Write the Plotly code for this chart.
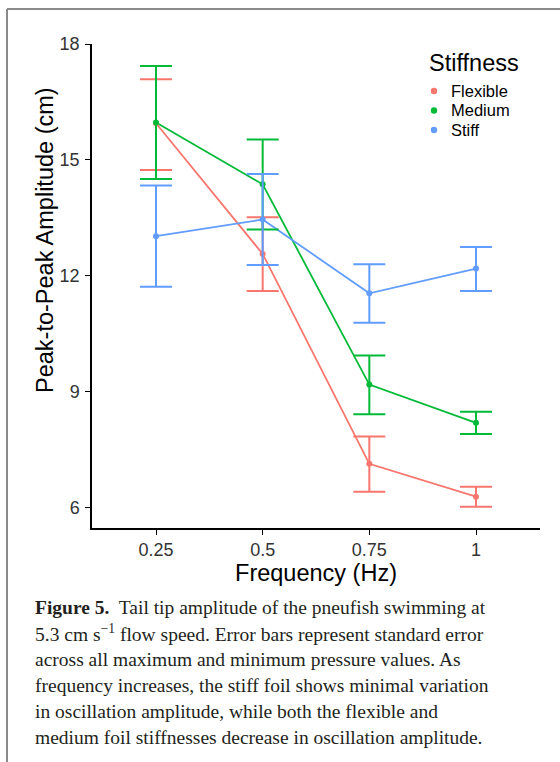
import plotly.graph_objects as go

freq = [0.25, 0.5, 0.75, 1.0]
freq_labels = ["0.25", "0.5", "0.75", "1"]
series = ["Flexible", "Medium", "Stiff"]
colors = {"Flexible": "#F8766D", "Medium": "#00BA38", "Stiff": "#619CFF"}

flex_mean = [15.95, 12.57, 7.14, 6.29]
flex_low = [14.74, 11.61, 6.42, 6.03]
flex_high = [17.09, 13.52, 7.85, 6.55]

med_mean = [15.97, 14.37, 9.19, 8.20]
med_low = [14.51, 13.20, 8.42, 7.91]
med_high = [17.43, 15.53, 9.94, 8.49]

stiff_mean = [13.03, 13.46, 11.55, 12.19]
stiff_low = [11.72, 12.28, 10.79, 11.61]
stiff_high = [14.34, 14.64, 12.30, 12.75]

data = {
    "Flexible": (flex_mean, flex_low, flex_high),
    "Medium": (med_mean, med_low, med_high),
    "Stiff": (stiff_mean, stiff_low, stiff_high),
}

caption_lines = [
    "<b>Figure 5.</b>  Tail tip amplitude of the pneufish swimming at",
    "5.3 cm s<sup>\u22121</sup> flow speed. Error bars represent standard error",
    "across all maximum and minimum pressure values. As",
    "frequency increases, the stiff foil shows minimal variation",
    "in oscillation amplitude, while both the flexible and",
    "medium foil stiffnesses decrease in oscillation amplitude.",
]

W, H = 560, 762
L, R, T, B = 92, 20, 44, 234
pw, ph = W - L - R, H - T - B
SANS = "Liberation Sans, Arial"


def px2x(p):
    return (p - L) / pw


def px2y(p):
    return (H - B - p) / ph


fig = go.Figure()
for s in series:
    m, lo, hi = data[s]
    fig.add_trace(go.Scatter(
        x=freq, y=m, mode="lines", line=dict(color=colors[s], width=1.8),
        showlegend=False, hoverinfo="skip"))
for s in series:
    m, lo, hi = data[s]
    fig.add_trace(go.Scatter(
        x=freq, y=m, mode="markers", name=s, showlegend=False,
        marker=dict(color=colors[s], size=6),
        error_y=dict(type="data", symmetric=False,
                     array=[h - v for h, v in zip(hi, m)],
                     arrayminus=[v - l for v, l in zip(m, lo)],
                     color=colors[s], thickness=2, width=16)))

axis_common = dict(showline=True, linecolor="black", linewidth=1.5,
                   ticks="outside", ticklen=5, tickcolor="black",
                   showgrid=False, zeroline=False,
                   tickfont=dict(family=SANS, size=18, color="#333333"))

fig.update_xaxes(range=[0.1, 1.15], tickvals=freq, ticktext=freq_labels,
                 title=dict(text="Frequency (Hz)", font=dict(family=SANS, size=23.5, color="black"), standoff=4),
                 **axis_common)
fig.update_yaxes(range=[5.48, 18], tickvals=[6, 9, 12, 15, 18], ticklabelstandoff=2,
                 **axis_common)

annotations = [dict(text="Peak-to-Peak Amplitude (cm)", textangle=-90,
                    x=px2x(45), y=px2y(240), xref="paper", yref="paper",
                    showarrow=False, xanchor="center", yanchor="middle",
                    font=dict(family=SANS, size=23.5, color="black"))]

# legend drawn manually to match the tight ggplot key spacing
annotations.append(dict(text="Stiffness", x=px2x(427), y=px2y(63), xref="paper", yref="paper",
                        showarrow=False, xanchor="left", yanchor="middle",
                        font=dict(family=SANS, size=23.5, color="black")))
shapes = []
leg_y = [91, 110.5, 130]
for s, yy in zip(series, leg_y):
    annotations.append(dict(text=s, x=px2x(450), y=px2y(yy), xref="paper", yref="paper",
                            showarrow=False, xanchor="left", yanchor="middle", borderpad=0,
                            font=dict(family=SANS, size=16.5, color="black")))
    shapes.append(dict(type="circle", xref="paper", yref="paper",
                       xsizemode="pixel", ysizemode="pixel",
                       xanchor=px2x(434), yanchor=px2y(yy),
                       x0=-3.2, x1=3.2, y0=-3.2, y1=3.2,
                       fillcolor=colors[s], line=dict(width=0)))

cap_y = [607, 633, 659, 685, 711, 737]
for line, yy in zip(caption_lines, cap_y):
    annotations.append(dict(text=line, x=px2x(33), y=px2y(yy), xref="paper", yref="paper",
                            showarrow=False, xanchor="left", yanchor="middle", align="left",
                            font=dict(family="Liberation Serif, Times New Roman", size=19.5, color="#231F20")))

shapes += [
    dict(type="line", xref="paper", yref="paper", x0=px2x(7), x1=px2x(562), y0=px2y(9), y1=px2y(9),
         line=dict(color="#8a8a8a", width=2)),
    dict(type="line", xref="paper", yref="paper", x0=px2x(7), x1=px2x(7), y0=px2y(9), y1=px2y(764),
         line=dict(color="#8a8a8a", width=2)),
]

fig.update_layout(
    width=W, height=H,
    margin=dict(l=L, r=R, t=T, b=B),
    paper_bgcolor="white", plot_bgcolor="white",
    annotations=annotations, shapes=shapes,
    showlegend=False,
    font=dict(family=SANS),
)

fig.write_html("out.html")
